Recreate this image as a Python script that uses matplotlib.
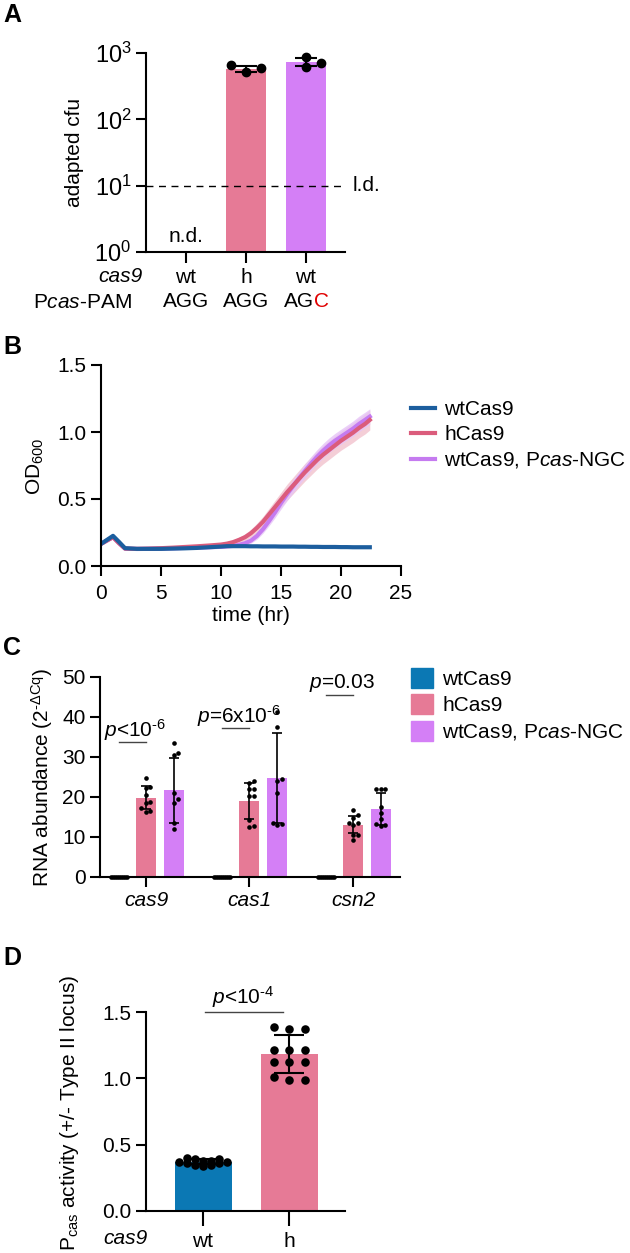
import matplotlib
matplotlib.use('Agg')
import matplotlib.pyplot as plt
import matplotlib.transforms as mtransforms
from matplotlib.patches import Patch
from matplotlib.lines import Line2D
import numpy as np

plt.rcParams['font.family'] = ['Liberation Sans', 'DejaVu Sans']
plt.rcParams['mathtext.fontset'] = 'custom'
plt.rcParams['mathtext.rm'] = 'Liberation Sans'
plt.rcParams['mathtext.it'] = 'Liberation Sans:italic'
plt.rcParams['mathtext.bf'] = 'Liberation Sans:bold'
plt.rcParams['font.size'] = 15
plt.rcParams['axes.linewidth'] = 1.5

HY = '\u2010'  # plain hyphen, mathtext would turn '-' into a long minus

# ---- panel A data ----
a_cas9 = ['wt', 'h', 'wt']
a_pam = ['AGG', 'AGG', 'AG']
a_mean = [np.nan, 575, 739]
a_sd = [np.nan, 60, 100]
a_points = [[], [522, 659, 588], [881, 622, 698]]

# ---- panel B data (growth curves) ----
b_time = [0, 0.5, 1, 1.5, 2, 3, 4, 5, 6, 7, 8, 9, 10, 10.5, 11, 11.5, 12, 12.5, 13, 13.5,
          14, 14.5, 15, 15.5, 16, 16.5, 17, 17.5, 18, 18.5, 19, 19.5, 20, 20.5, 21, 21.5, 22, 22.4]
b_wt = [0.165, 0.195, 0.225, 0.18, 0.133, 0.128, 0.128, 0.128, 0.13, 0.132, 0.135, 0.14, 0.145,
        0.148, 0.148, 0.148, 0.148, 0.147, 0.147, 0.146, 0.146, 0.146, 0.145, 0.145, 0.145, 0.144,
        0.144, 0.143, 0.143, 0.142, 0.142, 0.142, 0.141, 0.141, 0.14, 0.14, 0.14, 0.14]
b_h = [0.165, 0.19, 0.215, 0.17, 0.13, 0.128, 0.13, 0.133, 0.137, 0.142, 0.147, 0.153, 0.16,
       0.167, 0.178, 0.195, 0.215, 0.245, 0.285, 0.33, 0.385, 0.44, 0.495, 0.55, 0.60, 0.65,
       0.70, 0.745, 0.79, 0.83, 0.865, 0.90, 0.935, 0.965, 0.995, 1.03, 1.06, 1.09]
b_ngc = [0.165, 0.19, 0.215, 0.17, 0.13, 0.127, 0.128, 0.13, 0.132, 0.135, 0.138, 0.14, 0.143,
         0.146, 0.15, 0.158, 0.17, 0.19, 0.225, 0.275, 0.335, 0.40, 0.47, 0.535, 0.595, 0.655,
         0.71, 0.765, 0.815, 0.86, 0.90, 0.935, 0.965, 0.995, 1.025, 1.06, 1.09, 1.115]
b_h_sd = [0.01, 0.01, 0.01, 0.01, 0.005, 0.005, 0.005, 0.005, 0.006, 0.007, 0.008, 0.01, 0.012,
          0.014, 0.016, 0.02, 0.025, 0.03, 0.035, 0.04, 0.045, 0.05, 0.055, 0.06, 0.062, 0.064,
          0.066, 0.067, 0.068, 0.069, 0.07, 0.07, 0.071, 0.072, 0.073, 0.074, 0.075, 0.075]
b_ngc_sd = [0.01, 0.01, 0.01, 0.01, 0.005, 0.005, 0.005, 0.005, 0.005, 0.006, 0.006, 0.007, 0.008,
            0.009, 0.01, 0.012, 0.015, 0.02, 0.025, 0.03, 0.035, 0.04, 0.045, 0.048, 0.05, 0.05,
            0.052, 0.052, 0.053, 0.054, 0.055, 0.055, 0.056, 0.056, 0.057, 0.058, 0.058, 0.058]
b_labels = ['wtCas9', 'hCas9', 'wtCas9, P$\\mathit{cas}$-NGC']

# ---- panel C data (RNA abundance) ----
c_genes = ['cas9', 'cas1', 'csn2']
c_wt_mean = [0.1, 0.1, 0.1]
c_wt_sd = [0.05, 0.05, 0.05]
c_wt_pts = [[0, 0, 0, 0, 0, 0, 0, 0, 0],
            [0, 0, 0, 0, 0, 0, 0, 0, 0],
            [0, 0, 0, 0, 0, 0, 0, 0, 0]]
c_h_mean = [19.8, 19.0, 13.1]
c_h_sd = [2.9, 4.4, 2.2]
c_h_pts = [[24.7, 22.5, 22.2, 20.5, 18.5, 18.8, 17.2, 16.2, 16.5],
           [24.0, 23.5, 22.0, 22.0, 20.2, 20.2, 14.3, 12.8, 12.6],
           [16.8, 15.5, 14.8, 13.5, 13.4, 13.0, 10.5, 10.5, 9.2]]
c_ngc_mean = [21.7, 24.7, 17.0]
c_ngc_sd = [8.1, 11.2, 3.9]
c_ngc_pts = [[33.5, 31.0, 30.5, 21.0, 19.5, 18.5, 13.5, 12.0],
             [41.2, 37.6, 24.5, 24.0, 21.0, 13.5, 13.2, 13.0],
             [22.0, 22.0, 22.0, 17.5, 16.0, 14.5, 13.2, 13.0, 12.8]]
c_pvals = ['<10$^{' + HY + '6}$', '=6x10$^{' + HY + '6}$', '=0.03']
c_labels = ['wtCas9', 'hCas9', 'wtCas9, P$\\mathit{cas}$-NGC']

# ---- panel D data (Pcas activity) ----
d_cas9 = ['wt', 'h']
d_mean = [0.371, 1.181]
d_sd = [0.02, 0.142]
d_pts = [[0.40, 0.39, 0.39, 0.38, 0.38, 0.37, 0.37, 0.36, 0.36, 0.35, 0.35, 0.34],
         [1.37, 1.39, 1.37, 1.21, 1.215, 1.21, 1.125, 1.125, 1.125, 0.99, 1.01, 0.985]]
d_pval = '<10$^{' + HY + '4}$'

PINK = '#E67A96'
PURPLE = '#D47FF6'
BLUE = '#0B78B4'
LBLUE = '#1C5E9E'
LPINK = '#DB5C7C'
LPURPLE = '#C57BF0'

W, H = 630, 1253
fig = plt.figure(figsize=(W / 100, H / 100), dpi=100)


def px(x, y):
    return x / W, 1 - y / H


def rect(l, t, r, b):
    return [l / W, 1 - b / H, (r - l) / W, (b - t) / H]


def style(ax):
    ax.spines['top'].set_visible(False)
    ax.spines['right'].set_visible(False)
    ax.tick_params(length=7, width=1.5, pad=3.5)


def swarm(ax, xc, vals, diam, spacing, maxw):
    # spread points sideways where they would overlap (prism-like)
    tr = ax.transData
    ys = np.array([tr.transform((xc, v))[1] for v in vals])
    cands = [0.0]
    k = 1
    while k * spacing <= maxw + 0.01:
        cands += [k * spacing, -k * spacing]
        k += 1
    placed = []
    offs = np.zeros(len(vals))
    for i in np.argsort(ys):
        best = None
        bestc, bestn = 0.0, 1e9
        for c in cands:
            n = sum(1 for dx, y in placed if abs(y - ys[i]) < diam and abs(dx - c) < spacing * 0.95)
            if n == 0:
                best = c
                break
            if n < bestn:
                bestn, bestc = n, c
        if best is None:
            best = bestc
        placed.append((best, ys[i]))
        offs[i] = best
    x0 = tr.transform((0, 0))[0]
    x1 = tr.transform((1, 0))[0]
    return xc + offs / (x1 - x0)


# ================= A =================
axA = fig.add_axes(rect(146, 53, 345, 252))
style(axA)
axA.set_yscale('log')
axA.set_ylim(1, 1000)
axA.set_xlim(-0.667, 2.65)
axA.set_yticks([1, 10, 100, 1000])
axA.set_yticklabels(['10$^{0}$', '10$^{1}$', '10$^{2}$', '10$^{3}$'], fontsize=17)
axA.minorticks_off()
xa = np.arange(len(a_cas9))
axA.bar(xa, a_mean, width=0.667, color=[PINK, PINK, PURPLE])
axA.set_xticks(xa)
axA.tick_params(axis='x', labelbottom=False, length=8)
axA.axhline(10, color='black', lw=1, ls=(0, (5, 4)))
blendA = mtransforms.blended_transform_factory(axA.transAxes, axA.transData)
axA.text(1.04, 10, 'l.d.', transform=blendA, va='center', ha='left', fontsize=15)
axA.text(0, 1.7, 'n.d.', ha='center', va='center', fontsize=15)
for i in range(len(a_cas9)):
    if len(a_points[i]):
        xs = swarm(axA, i, a_points[i], 8, 15, 16)
        axA.scatter(xs, a_points[i], s=36, color='black', zorder=4, clip_on=False)
        axA.errorbar(i, a_mean[i], yerr=a_sd[i], color='black', lw=1.5, capsize=8,
                     capthick=1.5, zorder=5)
xtA = mtransforms.blended_transform_factory(axA.transData, axA.transAxes)
for i in range(len(a_cas9)):
    axA.text(i, -0.126, a_cas9[i], transform=xtA, ha='center', va='center', fontsize=15)
    if i < 2:
        axA.text(i, -0.251, a_pam[i], transform=xtA, ha='center', va='center', fontsize=15)
# last PAM: AG in black, C in red, centred together
axA.annotate(a_pam[2], (2, -0.251), xycoords=xtA, xytext=(5.5, 0), textcoords='offset points',
             ha='right', va='center', fontsize=15)
axA.annotate('C', (2, -0.251), xycoords=xtA, xytext=(5.5, 0), textcoords='offset points',
             ha='left', va='center', fontsize=15, color='#E00000')
fig.text(*px(143, 277), 'cas9', ha='right', va='center', fontsize=15, style='italic')
fig.text(*px(132, 302), 'P$\\mathit{cas}$-PAM', ha='right', va='center', fontsize=15)
fig.text(*px(75, 152), 'adapted cfu', rotation=90, ha='center', va='center', fontsize=15)

# ================= B =================
axB = fig.add_axes(rect(101, 365, 401, 566))
style(axB)
axB.set_xlim(0, 25)
axB.set_ylim(0, 1.5)
axB.set_xticks([0, 5, 10, 15, 20, 25])
axB.set_yticks([0, 0.5, 1.0, 1.5])
axB.set_yticklabels(['0.0', '0.5', '1.0', '1.5'])
axB.tick_params(axis='x', pad=6)
t = np.array(b_time)
for vals, sd, fc in [(b_h, b_h_sd, '#F2C2CE'), (b_ngc, b_ngc_sd, '#E6C4F7')]:
    v = np.array(vals)
    s = np.array(sd)
    axB.fill_between(t, v - s, v + s, color=fc, alpha=0.8, lw=0)
axB.plot(t, b_ngc, color=LPURPLE, lw=3)
axB.plot(t, b_h, color=LPINK, lw=3)
axB.plot(t, b_wt, color=LBLUE, lw=3)
axB.set_xlabel('time (hr)', fontsize=15, labelpad=2)
fig.text(*px(35, 466), 'OD$_{600}$', rotation=90, ha='center', va='center', fontsize=15)
handlesB = [Line2D([], [], color=c, lw=3) for c in [LBLUE, LPINK, LPURPLE]]
fig.legend(handlesB, b_labels, loc='upper left', bbox_to_anchor=px(411, 400), frameon=False,
           borderpad=0, borderaxespad=0, handlelength=1.15, handletextpad=0.45,
           labelspacing=0.3, fontsize=15)

# ================= C =================
axC = fig.add_axes(rect(100, 677, 400, 877))
style(axC)
axC.set_xlim(-0.444, 2.454)
axC.set_ylim(0, 50)
axC.set_yticks([0, 10, 20, 30, 40, 50])
xc = np.arange(len(c_genes))
bw = 0.193
offs = [-0.265, 0.0, 0.27]
groups = [(c_wt_mean, c_wt_sd, c_wt_pts, BLUE), (c_h_mean, c_h_sd, c_h_pts, PINK),
          (c_ngc_mean, c_ngc_sd, c_ngc_pts, PURPLE)]
for k, (mean, sd, pts, col) in enumerate(groups):
    axC.bar(xc + offs[k], mean, width=bw, color=col, zorder=2)
for k, (mean, sd, pts, col) in enumerate(groups):
    for i in range(len(c_genes)):
        if k == 0:
            xs = swarm(axC, i + offs[k], pts[i], 4.5, 2, 8)
        else:
            xs = swarm(axC, i + offs[k], pts[i], 4.5, 4.5, 9)
        axC.scatter(xs, pts[i], s=11, color='black', zorder=4, clip_on=False, lw=0)
        if k > 0:
            axC.errorbar(i + offs[k], mean[i], yerr=sd[i], color='black', lw=1.2, capsize=3.5,
                         capthick=1.2, zorder=5)
axC.set_xticks(xc)
axC.set_xticklabels(c_genes, fontstyle='italic')
axC.tick_params(axis='x', pad=3)
line_y = [33.75, 37.25, 45.5]
for i in range(len(c_genes)):
    axC.plot([i + offs[0], i + offs[1]], [line_y[i], line_y[i]], color='#444444', lw=1,
             clip_on=False)
    axC.text(i + (offs[0] + offs[1]) / 2 + 0.03, line_y[i] + 2.9, '$\\mathit{p}$' + c_pvals[i],
             ha='center', va='center', fontsize=15, clip_on=False)
fig.text(*px(42, 777), 'RNA abundance (2$^{' + HY + '\\mathrm{ΔCq}}$)', rotation=90,
         ha='center', va='center', fontsize=15)
handlesC = [Patch(color=c) for c in [BLUE, PINK, PURPLE]]
fig.legend(handlesC, c_labels, loc='upper left', bbox_to_anchor=px(411, 668), frameon=False,
           borderpad=0, borderaxespad=0, handlelength=1.05, handleheight=1.1,
           handletextpad=0.45, labelspacing=0.25, fontsize=15)

# ================= D =================
axD = fig.add_axes(rect(146, 1012, 345, 1211))
style(axD)
axD.set_xlim(-0.663, 1.651)
axD.set_ylim(0, 1.5)
axD.set_yticks([0, 0.5, 1.0, 1.5])
axD.set_yticklabels(['0.0', '0.5', '1.0', '1.5'])
xd = np.arange(len(d_cas9))
axD.bar(xd, d_mean, width=0.663, color=[BLUE, PINK])
for i in range(len(d_cas9)):
    xs = swarm(axD, i, d_pts[i], 8, 15.5 if i == 1 else 8, 28)
    axD.scatter(xs, d_pts[i], s=38, color='black', zorder=4, clip_on=False, lw=0)
    axD.errorbar(i, d_mean[i], yerr=d_sd[i], color='black', lw=1.5, capsize=11, capthick=1.5,
                 zorder=5)
axD.set_xticks(xd)
axD.set_xticklabels(d_cas9)
axD.tick_params(axis='x', length=11, pad=4)
axD.plot([0.02, 0.93], [1.5, 1.5], color='#444444', lw=1, clip_on=False)
axD.text(0.47, 1.61, '$\\mathit{p}$' + d_pval, ha='center', va='center', fontsize=15)
fig.text(*px(148, 1238), 'cas9', ha='right', va='center', fontsize=15, style='italic')
fig.text(*px(70, 1113), 'P$_{\\mathrm{cas}}$ activity (+/- Type II locus)', rotation=90,
         ha='center', va='center', fontsize=15)

# panel letters
for letter, y in [('A', 15), ('B', 347), ('C', 648), ('D', 958)]:
    fig.text(*px(3, y), letter, ha='left', va='center', fontsize=18, fontweight='bold')

fig.savefig('out.png', dpi=100)
